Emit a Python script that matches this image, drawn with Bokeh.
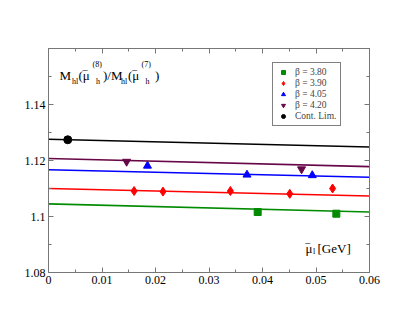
from bokeh.plotting import figure
from bokeh.models import (Range1d, LinearAxis, SingleIntervalTicker, CustomJSTickFormatter,
                          Legend, LegendItem, Label)
from bokeh.embed import file_html
from bokeh.resources import INLINE

# ---------------- data ----------------
labels = ["β = 3.80", "β = 3.90", "β = 4.05", "β = 4.20", "Cont. Lim."]
colors = ["#008B00", "#FF0000", "#0000FF", "#670748", "#000000"]
markers = ["square", "diamond", "triangle", "inverted_triangle", "circle"]

x_b380 = [0.0391, 0.0538]
y_b380 = [1.1016, 1.1010]
e_b380 = [0.0003, 0.0003]

x_b390 = [0.0160, 0.0214, 0.0340, 0.0451, 0.0531]
y_b390 = [1.1091, 1.1089, 1.1091, 1.1081, 1.1100]
e_b390 = [0.0002, 0.0004, 0.0002, 0.0002, 0.0003]

x_b405 = [0.0185, 0.0371, 0.0493]
y_b405 = [1.1181, 1.1149, 1.1147]
e_b405 = [0.0005, 0.0002, 0.0003]

x_b420 = [0.0146, 0.0473]
y_b420 = [1.1196, 1.1169]
e_b420 = [0.0003, 0.0003]

x_cont = [0.0036]
y_cont = [1.1274]
e_cont = [0.0002]

# linear fits evaluated at the x-range ends
fit_x = [0.0, 0.06]
fit_b380 = [1.1045, 1.1016]
fit_b390 = [1.1100, 1.1073]
fit_b405 = [1.1167, 1.1140]
fit_b420 = [1.1207, 1.1178]
fit_cont = [1.1276, 1.1248]

series = [
    (x_b380, y_b380, e_b380, fit_b380),
    (x_b390, y_b390, e_b390, fit_b390),
    (x_b405, y_b405, e_b405, fit_b405),
    (x_b420, y_b420, e_b420, fit_b420),
    (x_cont, y_cont, e_cont, fit_cont),
]
sizes = [7, 9, 8, 8, 8]

# ---------------- figure ----------------
FONT = "'Liberation Serif', 'Times New Roman', serif"
frame_col = "#777777"

p = figure(width=399, height=305, output_backend="svg", toolbar_location=None,
           x_range=Range1d(0, 0.06), y_range=Range1d(1.08, 1.16),
           min_border_left=48, min_border_right=30, min_border_top=48, min_border_bottom=33)
p.background_fill_color = "white"
p.border_fill_color = "white"
p.outline_line_color = frame_col
p.outline_line_width = 1
p.grid.visible = False
p.xaxis.visible = False
p.yaxis.visible = False

fmt = CustomJSTickFormatter(code="""
    if (tick > 1.155) { return ''; }
    const v = Math.round(tick * 1000) / 1000;
    return v.toString();
""")

def style_axis(ax, show_labels):
    ax.axis_line_color = frame_col
    ax.major_tick_line_color = frame_col
    ax.minor_tick_line_color = frame_col
    ax.major_tick_in = 5
    ax.major_tick_out = 0
    ax.minor_tick_in = 3
    ax.minor_tick_out = 0
    ax.formatter = fmt
    ax.major_label_text_font = FONT
    ax.major_label_text_font_size = "12px"
    ax.major_label_text_color = "black"
    ax.major_label_standoff = 3
    if not show_labels:
        ax.major_label_text_alpha = 0
        ax.major_label_text_font_size = "1px"

for loc, show in [("below", True), ("above", False)]:
    ax = LinearAxis(ticker=SingleIntervalTicker(interval=0.01, num_minor_ticks=2))
    style_axis(ax, show)
    p.add_layout(ax, loc)
for loc, show in [("left", True), ("right", False)]:
    ax = LinearAxis(ticker=SingleIntervalTicker(interval=0.02, num_minor_ticks=2))
    style_axis(ax, show)
    p.add_layout(ax, loc)

items = []
for (xs, ys, es, fit), col, mk, sz, lab in zip(series, colors, markers, sizes, labels):
    p.line(fit_x, fit, line_color=col, line_width=1.6)
    lo = [y - e for y, e in zip(ys, es)]
    hi = [y + e for y, e in zip(ys, es)]
    p.segment(x0=xs, y0=lo, x1=xs, y1=hi, line_color=col, line_width=1.5)
    r = p.scatter(xs, ys, marker=mk, size=sz, fill_color=col, line_color=col)
    items.append(LegendItem(label=lab, renderers=[r]))

legend = Legend(items=items, location=(224, 146), orientation="vertical",
                label_text_font=FONT, label_text_font_size="9.5px",
                label_height=10, glyph_height=10, glyph_width=12,
                spacing=1, padding=4, margin=0, label_standoff=6,
                border_line_color="black", border_line_width=1,
                background_fill_color="white", background_fill_alpha=1)
p.add_layout(legend, "center")

# ---------------- axis titles (text placed inside the frame) ----------------
FL, FB = 48, 272  # frame left / bottom in page pixels

def txt(t, ix, iy, size):
    p.add_layout(Label(x=ix - FL, y=FB - iy, x_units="screen", y_units="screen",
                       text=t, text_font=FONT, text_font_size=size,
                       text_color="black", text_baseline="alphabetic"))

def bar(ix, iy):
    p.add_layout(Label(x=ix - FL, y=FB - iy, x_units="screen", y_units="screen",
                       text="\u203e", text_font=FONT, text_font_size="13px",
                       text_color="black", text_baseline="alphabetic"))

big, small = "13px", "8px"
txt("M", 59, 75, big)
txt("hl", 71.5, 80.5, small)
txt("(\u03bc", 78, 75, big)
bar(82.5, 75)
txt("(8)", 92, 63.5, small)
txt("h", 95.5, 80.5, small)
txt(")/M", 102.5, 75, big)
txt("hl", 120.5, 80.5, small)
txt("(\u03bc", 127.5, 75, big)
bar(132, 75)
txt("(7)", 141, 63.5, small)
txt("h", 145, 80.5, small)
txt(")", 154.5, 75, big)

txt("\u03bc", 305, 247.5, big)
bar(305, 247.5)
txt("l", 312.5, 250.5, small)
txt("[GeV]", 317, 247.5, big)

open("out.html", "w").write(file_html(p, INLINE))
